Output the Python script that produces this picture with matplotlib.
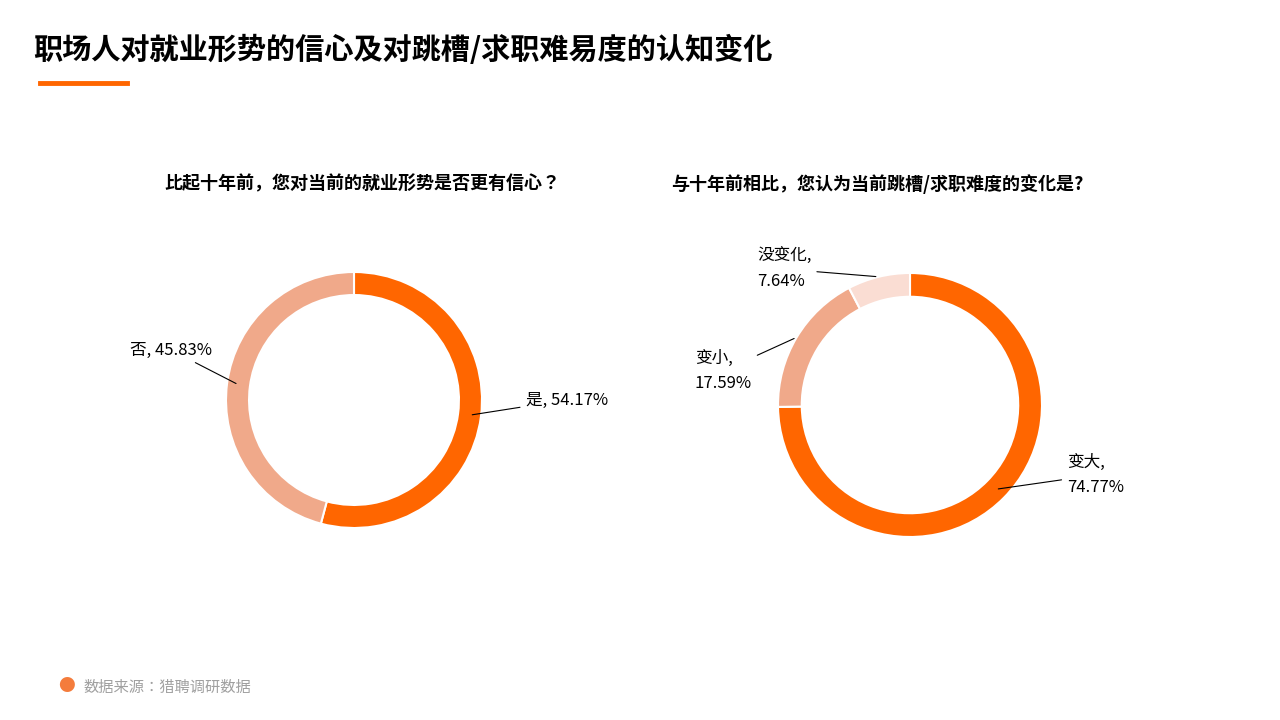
import matplotlib
matplotlib.use("Agg")
import matplotlib.pyplot as plt
from matplotlib import font_manager as fm
import numpy as np

cjk = sorted({f.name for f in fm.fontManager.ttflist if "CJK" in f.name})
pref = [n for n in ["Noto Sans CJK SC", "Noto Sans CJK JP", "Noto Sans CJK TC", "Noto Sans CJK KR"] if n in cjk] + cjk
plt.rcParams["font.family"] = pref + ["DejaVu Sans"]

title = "职场人对就业形势的信心及对跳槽/求职难易度的认知变化"
sub1 = "比起十年前，您对当前的就业形势是否更有信心？"
sub2 = "与十年前相比，您认为当前跳槽/求职难度的变化是?"
left_labels = ["是", "否"]
left_values = [54.17, 45.83]
right_labels = ["变大", "变小", "没变化"]
right_values = [74.77, 17.59, 7.64]
source = "数据来源：猎聘调研数据"

W, H = 1280, 720
fig = plt.figure(figsize=(12.8, 7.2), dpi=100)

def px_axes(cx, cy, r):
    return fig.add_axes([(cx - r) / W, 1 - (cy + r) / H, 2 * r / W, 2 * r / H])

fig.text(33 / W, 1 - 50 / H, title, fontsize=21, fontweight="bold", va="center", ha="left")
fig.add_artist(plt.Line2D([40 / W, 127 / W], [1 - 83 / H] * 2, color="#FF6600", lw=3.5))
fig.text(362 / W, 1 - 184 / H, sub1, fontsize=13, fontweight="bold", ha="center", va="center")
fig.text(877 / W, 1 - 184 / H, sub2, fontsize=13, fontweight="bold", ha="center", va="center")
fig.text(83 / W, 1 - 687 / H, source, fontsize=11, color="#A0A0A0", va="center")
fig.text(66 / W, 1 - 686 / H, "●", fontsize=12, color="#F47C3C", ha="center", va="center")

def donut(ax, values, colors, width):
    ax.pie(values, colors=colors, startangle=90, counterclock=False,
           wedgeprops=dict(width=width, edgecolor="white", linewidth=1.5))
    ax.set_xlim(-1, 1); ax.set_ylim(-1, 1)
    mids = []
    start = 90
    tot = sum(values)
    for v in values:
        mids.append(np.deg2rad(start - v / tot * 180))
        start -= v / tot * 360
    return mids

axL = px_axes(354, 400, 128)
m = donut(axL, left_values, ["#FF6600", "#F0A98A"], 0.18)
kw = dict(fontsize=12, arrowprops=dict(arrowstyle="-", color="black", lw=0.8), annotation_clip=False)
r = 0.91
axL.annotate(f"{left_labels[0]}, {left_values[0]:.2f}%", xy=(r*np.cos(m[0]), r*np.sin(m[0])),
             xytext=(1.34, 0.0), ha="left", va="center", **kw)
axL.annotate(f"{left_labels[1]}, {left_values[1]:.2f}%", xy=(r*np.cos(m[1]), r*np.sin(m[1])),
             xytext=(-1.11, 0.39), ha="right", va="center", **kw)

axR = px_axes(910, 405, 132)
m = donut(axR, right_values, ["#FF6600", "#F0A98A", "#FADDD3"], 0.18)
axR.annotate(f"{right_labels[0]},\n{right_values[0]:.2f}%", xy=(r*np.cos(m[0]), r*np.sin(m[0])),
             xytext=(1.19, -0.53), ha="left", va="center", linespacing=1.6, **kw)
axR.annotate(f"{right_labels[1]},\n{right_values[1]:.2f}%", xy=(1.0*np.cos(m[1]), 1.0*np.sin(m[1])),
             xytext=(-1.63, 0.26), ha="left", va="center", linespacing=1.6, **kw)
axR.annotate(f"{right_labels[2]},\n{right_values[2]:.2f}%", xy=(1.0*np.cos(m[2]), 1.0*np.sin(m[2])),
             xytext=(-1.16, 1.03), ha="left", va="center", linespacing=1.6, **kw)

fig.savefig("out.png", dpi=100, facecolor="white")
